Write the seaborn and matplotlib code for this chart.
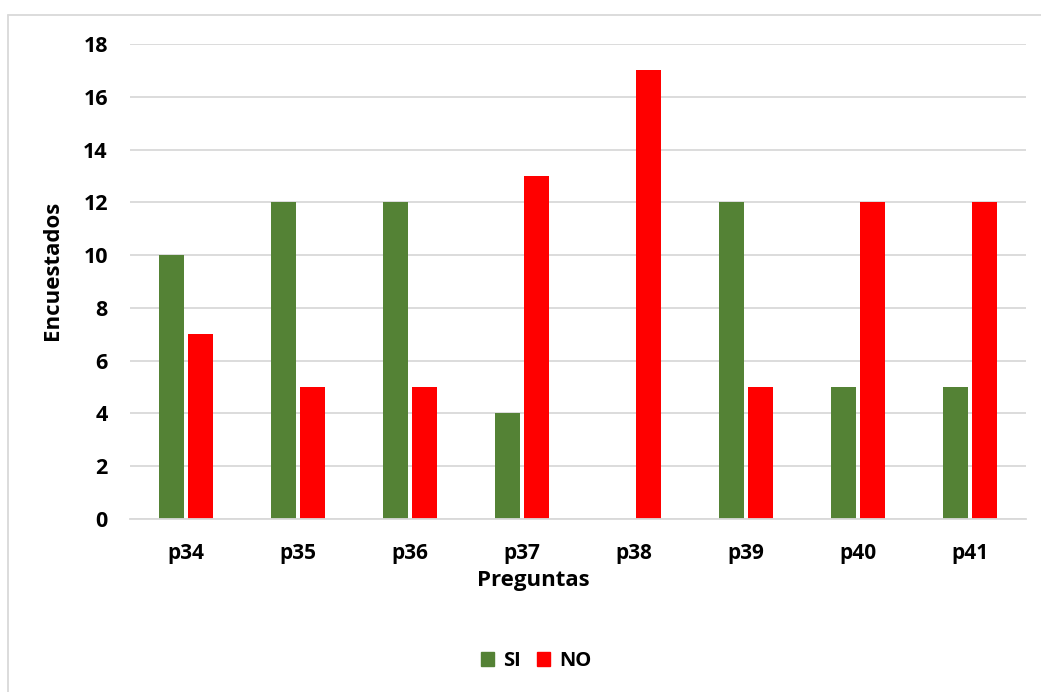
import matplotlib
matplotlib.use("Agg")
import matplotlib.pyplot as plt
from matplotlib.lines import Line2D
import seaborn as sns
import pandas as pd

preguntas = ["p34", "p35", "p36", "p37", "p38", "p39", "p40", "p41"]
si = [10, 12, 12, 4, 0, 12, 5, 5]
no = [7, 5, 5, 13, 17, 5, 12, 12]
series = ["SI", "NO"]
colores = {"SI": "#548235", "NO": "#FF0000"}

df = pd.DataFrame({
    "Preguntas": preguntas * 2,
    "Encuestados": si + no,
    "Serie": ["SI"] * len(si) + ["NO"] * len(no),
})

sns.set_theme(style="white")
plt.rcParams["font.family"] = ["Open Sans", "DejaVu Sans"]
plt.rcParams["font.weight"] = "bold"
plt.rcParams["text.color"] = "black"
plt.rcParams["axes.labelcolor"] = "black"
plt.rcParams["xtick.color"] = "black"
plt.rcParams["ytick.color"] = "black"

fig = plt.figure(figsize=(10.41, 6.92), dpi=100)
ax = fig.add_axes([0.1249, 0.25, 0.9856 - 0.1249, 0.9364 - 0.25])

sns.barplot(data=df, x="Preguntas", y="Encuestados", hue="Serie",
            hue_order=series, order=preguntas, palette=colores,
            width=0.52, gap=0.15, ax=ax, legend=False,
            saturation=1, linewidth=0)

ax.set_ylim(0, 18)
ax.set_xlim(-0.5, len(preguntas) - 0.5)
ax.set_yticks(range(0, 19, 2))
ax.yaxis.grid(True, color="#D9D9D9", linewidth=1.3)
ax.set_axisbelow(True)
for s in ["top", "right", "left"]:
    ax.spines[s].set_visible(False)
ax.spines["bottom"].set_color("#D9D9D9")
ax.spines["bottom"].set_linewidth(1.3)
ax.tick_params(axis="y", length=0, labelsize=15.5, pad=16)
ax.tick_params(axis="x", length=0, labelsize=15, pad=17)
for lbl in ax.get_xticklabels() + ax.get_yticklabels():
    lbl.set_fontweight("bold")
    lbl.set_color("#000000")

ax.set_xlabel("Preguntas", fontsize=16, fontweight="bold", color="black")
ax.xaxis.set_label_coords(0.45, -0.108)
ax.set_ylabel("Encuestados", fontsize=16, fontweight="bold", color="black")
ax.yaxis.set_label_coords(-0.075, 0.524)

handles = [plt.Rectangle((0, 0), 1, 1, color=colores[s]) for s in series]
leg = fig.legend(handles, series, loc="center", bbox_to_anchor=(536 / 1041, 1 - 661 / 692),
                 ncol=2, frameon=False, handlelength=0.65,
                 handleheight=0.65, handletextpad=0.45, columnspacing=0.8,
                 prop={"family": ["Open Sans", "DejaVu Sans"], "weight": "bold", "size": 14.5})
for t in leg.get_texts():
    t.set_color("black")

# outer chart frame
fig.add_artist(Line2D([8 / 1041, 8 / 1041], [0, 1 - 15 / 692],
                      transform=fig.transFigure, color="#D9D9D9", linewidth=1.3))
fig.add_artist(Line2D([8 / 1041, 1], [1 - 15 / 692, 1 - 15 / 692],
                      transform=fig.transFigure, color="#D9D9D9", linewidth=1.3))

fig.savefig("out.png", dpi=100, facecolor="white")
